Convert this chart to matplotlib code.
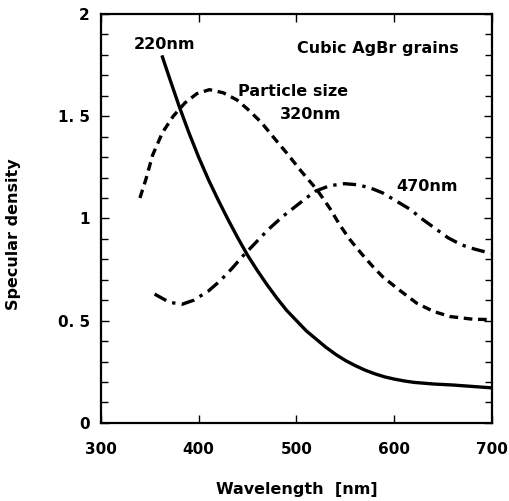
import matplotlib
matplotlib.use("Agg")
import matplotlib.pyplot as plt
from matplotlib.ticker import MultipleLocator

plt.rcParams['font.family'] = ['DejaVu Sans']

# 220nm grains (solid)
wl_220 = [363, 370, 380, 390, 400, 410, 420, 430, 440, 450, 460, 470, 480, 490, 500, 510,
          520, 530, 540, 550, 560, 570, 580, 590, 600, 610, 620, 640, 660, 680, 700]
sd_220 = [1.79, 1.69, 1.55, 1.42, 1.30, 1.19, 1.09, 0.995, 0.905, 0.82, 0.745, 0.675, 0.61, 0.55, 0.50, 0.45,
          0.41, 0.37, 0.335, 0.305, 0.28, 0.258, 0.24, 0.225, 0.214, 0.205, 0.198, 0.19, 0.185, 0.178, 0.171]

# 320nm grains (dashed)
wl_320 = [340, 346, 353, 363, 374, 386, 398, 411, 425, 439, 450, 464, 476, 490, 505, 521,
          534, 544, 554, 566, 577, 588, 605, 623, 640, 657, 680, 700]
sd_320 = [1.10, 1.19, 1.31, 1.42, 1.50, 1.565, 1.61, 1.63, 1.615, 1.58, 1.535, 1.47, 1.40, 1.32, 1.23, 1.14,
          1.05, 0.97, 0.90, 0.83, 0.77, 0.715, 0.65, 0.585, 0.545, 0.52, 0.507, 0.505]

# 470nm grains (dash-dot)
wl_470 = [355, 370, 383, 395, 410, 422, 434, 445, 459, 471, 486, 498, 510, 520, 534, 549,
          562, 575, 588, 602, 616, 629, 642, 655, 669, 682, 694, 700]
sd_470 = [0.63, 0.59, 0.58, 0.60, 0.645, 0.695, 0.755, 0.815, 0.885, 0.945, 1.01, 1.055, 1.10, 1.135, 1.16, 1.17,
          1.165, 1.15, 1.125, 1.085, 1.045, 0.995, 0.95, 0.905, 0.87, 0.85, 0.835, 0.83]

y_ticks = [0, 0.5, 1, 1.5, 2]
y_labels = ['0', '0. 5', '1', '1. 5', '2']
x_ticks = [300, 400, 500, 600, 700]

fig = plt.figure(figsize=(5.09, 5.01), dpi=100)
ax = fig.add_axes([0.198, 0.156, 0.769, 0.816])

ax.plot(wl_220, sd_220, '-', color='black', lw=2.4, solid_joinstyle='round')
ax.plot(wl_320, sd_320, color='black', lw=2.4, dashes=(2.6, 1.7))
ax.plot(wl_470, sd_470, color='black', lw=2.4, dashes=(4.0, 1.9, 1.0, 1.9))

ax.set_xlim(300, 700)
ax.set_ylim(0, 2)
ax.set_xticks(x_ticks)
ax.set_yticks(y_ticks)
ax.set_yticklabels(y_labels)
ax.yaxis.set_minor_locator(MultipleLocator(0.1))
ax.tick_params(which='both', direction='in', top=True, right=True, width=1.0, labelsize=11)
ax.tick_params(which='major', length=6)
ax.tick_params(which='minor', length=5)
ax.tick_params(axis='x', pad=14)
ax.tick_params(axis='y', pad=8)
for lab in ax.get_xticklabels() + ax.get_yticklabels():
    lab.set_fontweight('bold')
for s in ax.spines.values():
    s.set_linewidth(1.6)

ax.set_xlabel('Wavelength  [nm]', fontsize=11.5, fontweight='bold', labelpad=18)
ax.set_ylabel('Specular density', fontsize=11.5, fontweight='bold')
ax.yaxis.set_label_coords(-0.205, 0.462)

txt = dict(fontsize=11.5, fontweight='bold', ha='center', va='center')
ax.text(365, 1.85, '220nm', **txt)
ax.text(583, 1.83, 'Cubic AgBr grains', **txt)
ax.text(497, 1.62, 'Particle size', **txt)
ax.text(514, 1.51, '320nm', **txt)
ax.text(633, 1.155, '470nm', **txt)

fig.savefig('out.png', dpi=100)
